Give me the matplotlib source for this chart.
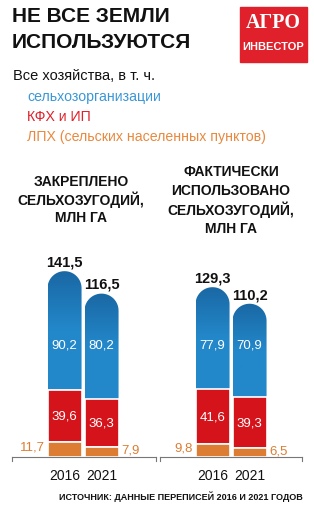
import numpy as np
import matplotlib.pyplot as plt
from matplotlib.patches import Rectangle, PathPatch
from matplotlib.path import Path
from matplotlib.colors import LinearSegmentedColormap

years = ['2016', '2021']
# закреплено сельхозугодий, млн га
fixed_org = [90.2, 80.2]
fixed_kfh = [39.6, 36.3]
fixed_lph = [11.7, 7.9]
fixed_total = [141.5, 116.5]
# фактически использовано
used_org = [77.9, 70.9]
used_kfh = [41.6, 39.3]
used_lph = [9.8, 6.5]
used_total = [129.3, 110.2]

BLUE_TOP = '#1a68a4'
BLUE_BOT = '#2388ca'
RED = '#d5131b'
ORANGE = '#dc7d33'
blue_cmap = LinearSegmentedColormap.from_list('bl', [BLUE_BOT, BLUE_BOT, BLUE_TOP])

plt.rcParams['font.family'] = ['Liberation Sans', 'DejaVu Sans']

W, H = 314, 506
fig = plt.figure(figsize=(W / 100, H / 100), dpi=100)


def px(x, y):
    return x / W, 1 - y / H


def fmt(v):
    return f'{v:.1f}'.replace('.', ',')


def capped_bar(ax, x, bottom, height, bw, r_y):
    # прямоугольник со скруглённым верхом
    t = np.linspace(0, np.pi, 40)
    cx, cy = x, bottom + height - r_y
    verts = [(x + bw / 2, bottom)]
    verts += list(zip(cx + bw / 2 * np.cos(t), cy + r_y * np.sin(t)))
    verts += [(x - bw / 2, bottom), (x + bw / 2, bottom)]
    codes = [Path.MOVETO] + [Path.LINETO] * (len(verts) - 2) + [Path.CLOSEPOLY]
    patch = PathPatch(Path(verts, codes), facecolor='none', lw=0)
    ax.add_patch(patch)
    grad = np.linspace(0, 1, 100).reshape(-1, 1)
    im = ax.imshow(grad, extent=[x - bw / 2, x + bw / 2, bottom, bottom + height],
                   origin='lower', aspect='auto', cmap=blue_cmap, zorder=1)
    im.set_clip_path(patch)


def panel(left, width, org, kfh, lph, total):
    base = 458
    ax_h = 197
    ax = fig.add_axes([left / W, (H - base) / H, width / W, ax_h / H])
    bw = 0.92
    r_y = 17 / (ax_h / 150)  # радиус скругления в единицах данных
    x = [0, 1]
    bot_kfh = lph
    bot_org = [a + b for a, b in zip(lph, kfh)]
    for i in x:
        capped_bar(ax, i, bot_org[i], org[i], bw, r_y)
        top = bot_org[i] + org[i]
        ax.text(i, top + 2, fmt(total[i]), ha='center', va='bottom',
                fontsize=10.5, fontweight='bold', color='#111111', zorder=3)
        ax.text(i, 86, fmt(org[i]), ha='center', va='center', fontsize=9.5,
                color='white', zorder=3)
        ax.text(i, bot_kfh[i] + kfh[i] / 2, fmt(kfh[i]),
                ha='center', va='center', fontsize=9.5, color='white', zorder=3)
    ax.bar(x, kfh, bw, bottom=bot_kfh, color=RED, edgecolor='white', lw=1.2, zorder=2)
    ax.bar(x, lph, bw, color=ORANGE, edgecolor='white', lw=1.2, zorder=2)
    ax.text(-bw / 2 - 0.08, lph[0] / 2 + 2, fmt(lph[0]), ha='right',
            va='center', fontsize=9.5, color=ORANGE)
    ax.text(1 + bw / 2 + 0.08, lph[1] / 2 + 2, fmt(lph[1]), ha='left',
            va='center', fontsize=9.5, color=ORANGE)
    ax.set_ylim(0, 150)
    ax.set_xlim(-1.42, -1.42 + width / 37)
    for s in ['top', 'right', 'left']:
        ax.spines[s].set_visible(False)
    ax.spines['bottom'].set_color('#777777')
    ax.spines['bottom'].set_linewidth(0.8)
    for xe in ax.get_xlim():
        ax.plot([xe, xe], [0, -3], color='#777777', lw=0.8, clip_on=False)
    ax.set_yticks([])
    ax.set_xticks(x, years)
    ax.tick_params(axis='x', length=0, pad=8, labelsize=10, colors='#111111')
    ax.patch.set_alpha(0)
    return ax


panel(12, 144, fixed_org, fixed_kfh, fixed_lph, fixed_total)
panel(160, 142, used_org, used_kfh, used_lph, used_total)

# заголовок
fig.text(*px(12, 17), 'НЕ ВСЕ ЗЕМЛИ', fontsize=15, fontweight='bold', va='center', color='#111111')
fig.text(*px(12, 43), 'ИСПОЛЬЗУЮТСЯ', fontsize=15, fontweight='bold', va='center', color='#111111')

# логотип
fig.patches.append(Rectangle(px(240, 63), 67 / W, 55 / H, transform=fig.transFigure,
                             color='#e0202a', zorder=0))
fig.text(*px(273.5, 23), 'АГРО', fontsize=14.5, fontweight='bold', color='white',
         ha='center', va='center', family='Liberation Serif')
fig.text(*px(273.5, 47), 'ИНВЕСТОР', fontsize=8, fontweight='bold', color='white',
         ha='center', va='center')

# подзаголовок и легенда
fig.text(*px(13, 76), 'Все хозяйства, в т. ч.', fontsize=10.5, va='center', color='#111111')
fig.text(*px(27, 97), 'сельхозорганизации', fontsize=10.2, va='center', color='#3a97d6')
fig.text(*px(27, 117), 'КФХ и ИП', fontsize=10.2, va='center', color='#e0202a')
fig.text(*px(27, 137), 'ЛПХ (сельских населенных пунктов)', fontsize=10.2, va='center',
         color='#e8893e')

# заголовки панелей
for y, s in zip([182, 200, 218], ['ЗАКРЕПЛЕНО', 'СЕЛЬХОЗУГОДИЙ,', 'МЛН ГА']):
    fig.text(*px(81, y), s, fontsize=10, fontweight='bold', ha='center', va='center',
             color='#111111')
for y, s in zip([172, 191, 210, 229], ['ФАКТИЧЕСКИ', 'ИСПОЛЬЗОВАНО', 'СЕЛЬХОЗУГОДИЙ,', 'МЛН ГА']):
    fig.text(*px(231, y), s, fontsize=10, fontweight='bold', ha='center', va='center',
             color='#111111')

fig.text(*px(303, 497), 'ИСТОЧНИК: ДАННЫЕ ПЕРЕПИСЕЙ 2016 И 2021 ГОДОВ', fontsize=6.5,
         fontweight='bold', ha='right', va='center', color='#111111')

fig.savefig('out.png', dpi=100)
